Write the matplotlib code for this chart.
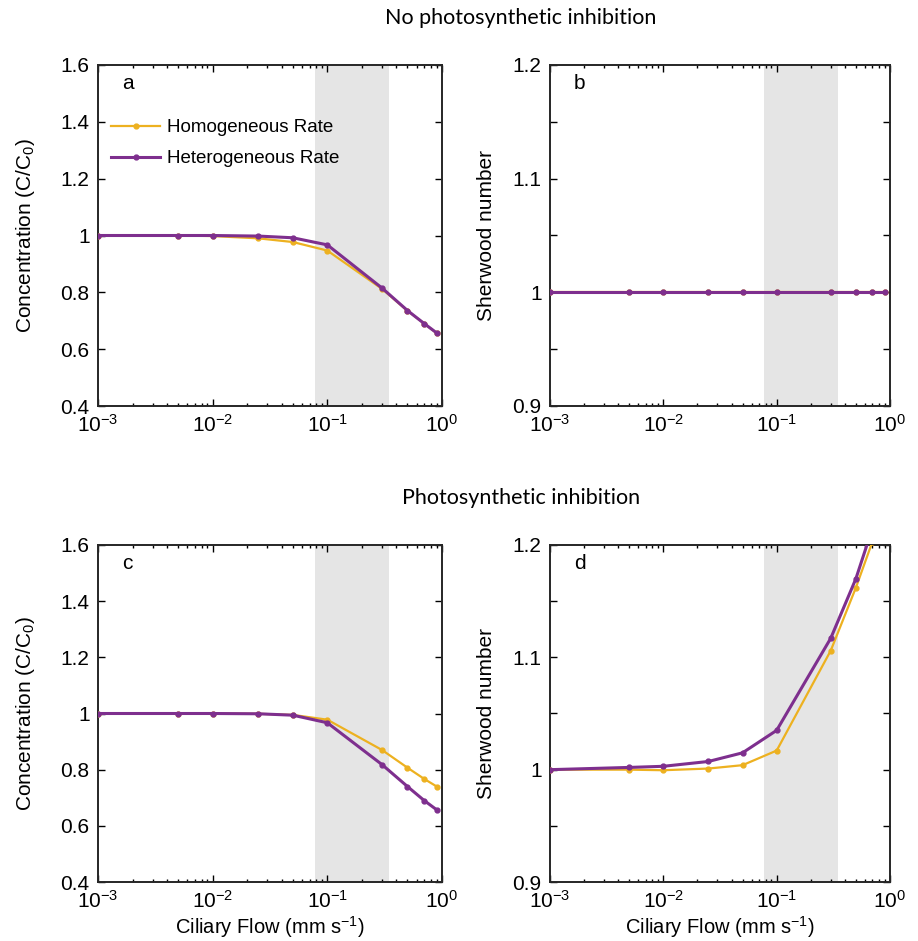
import numpy as np
import matplotlib
matplotlib.use('Agg')
import matplotlib.pyplot as plt
from matplotlib.ticker import LogLocator, MultipleLocator, FixedLocator, FixedFormatter

plt.rcParams['font.family'] = 'Liberation Sans'
plt.rcParams['mathtext.fontset'] = 'custom'
plt.rcParams['mathtext.rm'] = 'Liberation Sans'
plt.rcParams['mathtext.it'] = 'Liberation Sans:italic'

# ciliary flow (mm/s)
flow = [0.001, 0.005, 0.01, 0.025, 0.05, 0.1, 0.3, 0.5, 0.7, 0.9]

# panel a - concentration, no inhibition
conc_hom_a = [1.0, 1.0, 0.998, 0.990, 0.977, 0.947, 0.812, 0.735, 0.690, 0.656]
conc_het_a = [1.0, 1.0, 1.0, 0.998, 0.992, 0.967, 0.815, 0.736, 0.690, 0.657]
# panel b - sherwood, no inhibition
sh_hom_b = [1.0] * 10
sh_het_b = [1.0] * 10
# panel c - concentration, inhibition
conc_hom_c = [1.0, 1.0, 1.0, 0.999, 0.995, 0.978, 0.870, 0.807, 0.767, 0.740]
conc_het_c = [1.0, 1.0, 1.0, 0.999, 0.994, 0.967, 0.818, 0.740, 0.690, 0.657]
# panel d - sherwood, inhibition
sh_hom_d = [1.0, 1.0, 0.9995, 1.001, 1.004, 1.017, 1.106, 1.162, 1.203, 1.25]
sh_het_d = [1.0, 1.002, 1.003, 1.0073, 1.015, 1.035, 1.117, 1.170, 1.215, 1.26]

shade = (0.078, 0.345)
orange = '#EDB120'
purple = '#7E2F8E'

fig = plt.figure(figsize=(9.18, 9.41), dpi=100)
W, H = 918.0, 941.0

def make_ax(x0, x1, y0, y1):
    return fig.add_axes([x0 / W, 1 - y1 / H, (x1 - x0) / W, (y1 - y0) / H])

ax_a = make_ax(98, 442, 65, 406)
ax_b = make_ax(550, 890, 65, 406)
ax_c = make_ax(98, 442, 545, 882)
ax_d = make_ax(550, 890, 545, 882)

panels = [
    (ax_a, conc_hom_a, conc_het_a, 'a', (0.4, 1.6), 0.2, 'Concentration (C/C$_0$)'),
    (ax_b, sh_hom_b, sh_het_b, 'b', (0.9, 1.2), 0.05, 'Sherwood number'),
    (ax_c, conc_hom_c, conc_het_c, 'c', (0.4, 1.6), 0.2, 'Concentration (C/C$_0$)'),
    (ax_d, sh_hom_d, sh_het_d, 'd', (0.9, 1.2), 0.05, 'Sherwood number'),
]

for ax, hom, het, letter, ylim, ystep, ylab in panels:
    ax.axvspan(shade[0], shade[1], color='#E5E5E5', lw=0, zorder=0)
    ax.plot(flow, hom, color=orange, lw=1.6, marker='o', ms=3.5, label='Homogeneous Rate', zorder=3)
    ax.plot(flow, het, color=purple, lw=2.2, marker='o', ms=3.5, label='Heterogeneous Rate', zorder=4)
    ax.set_xscale('log')
    ax.set_xlim(1e-3, 1)
    ax.set_ylim(*ylim)
    ax.xaxis.set_major_locator(FixedLocator([1e-3, 1e-2, 1e-1, 1]))
    ax.xaxis.set_major_formatter(FixedFormatter(['$10^{-3}$', '$10^{-2}$', '$10^{-1}$', '$10^{0}$']))
    ax.xaxis.set_minor_locator(LogLocator(base=10, subs=np.arange(2, 10), numticks=20))
    if ystep == 0.2:
        ax.yaxis.set_major_locator(MultipleLocator(0.2))
        ax.yaxis.set_major_formatter(matplotlib.ticker.FuncFormatter(lambda v, p: '%g' % round(v, 2)))
        pad = 17
    else:
        ax.yaxis.set_major_locator(FixedLocator([0.9, 0.95, 1.0, 1.05, 1.1, 1.15, 1.2]))
        ax.yaxis.set_major_formatter(FixedFormatter(['0.9', '', '1', '', '1.1', '', '1.2']))
        pad = 12
    ax.tick_params(which='both', direction='in', top=True, right=True, labelsize=15, width=1.0)
    ax.tick_params(which='major', length=5, pad=6)
    ax.tick_params(axis='x', which='major', pad=6)
    ax.tick_params(which='minor', length=2.5)
    for s in ax.spines.values():
        s.set_linewidth(1.4)
        s.set_color('#262626')
    ax.set_ylabel(ylab, fontsize=15, labelpad=pad)
    ax.text(0.07, 0.945, letter, transform=ax.transAxes, fontsize=15, va='center', ha='left')

ax_a.legend(loc='upper left', bbox_to_anchor=(0.0, 0.88), frameon=False, fontsize=13.5,
            handlelength=2.6, handletextpad=0.4, labelspacing=0.75, borderaxespad=0.3)

for ax in (ax_c, ax_d):
    ax.set_xlabel('Ciliary Flow (mm s$^{-1}$)', fontsize=14.5, labelpad=1)

fig.text(521 / W, 1 - 18 / H, 'No photosynthetic inhibition', ha='center', va='center',
         fontsize=15.5, family='Lato')
fig.text(521 / W, 1 - 498 / H, 'Photosynthetic inhibition', ha='center', va='center',
         fontsize=15.5, family='Lato')

fig.savefig('out.png', dpi=100)
